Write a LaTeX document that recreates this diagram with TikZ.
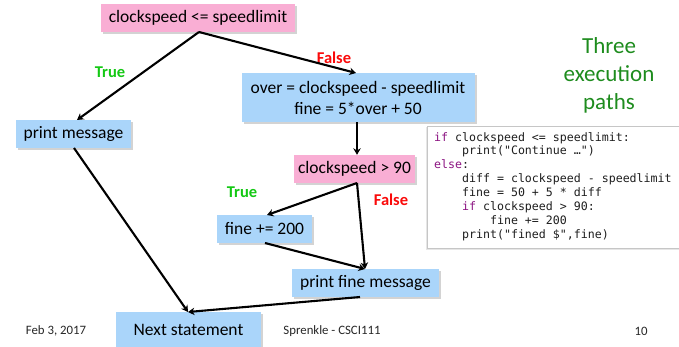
\documentclass[tikz,border=0pt]{standalone}
\usepackage{fontspec}
\setmainfont{Carlito}
\newfontfamily\codefont{DejaVu Sans Mono}
\usetikzlibrary{arrows.meta,shadows}
\definecolor{pinkbox}{RGB}{249,174,212}
\definecolor{bluebox}{RGB}{170,213,250}
\definecolor{truegreen}{RGB}{20,200,20}
\definecolor{falsered}{RGB}{250,10,10}
\definecolor{pathgreen}{RGB}{30,140,30}
\definecolor{kw}{RGB}{140,20,130}
\definecolor{codetext}{RGB}{30,30,30}
\begin{document}
\begin{tikzpicture}[x=1pt,y=-1pt,
  boxbase/.style={inner sep=0pt, align=center, font=\fontsize{17.5}{21}\selectfont,
    drop shadow={shadow xshift=2pt,shadow yshift=-2pt,opacity=0.35,fill=gray}},
  decision/.style={boxbase, fill=pinkbox},
  process/.style={boxbase, fill=bluebox},
  truelbl/.style={font=\bfseries\fontsize{16.5}{18}\selectfont, text=truegreen},
  falselbl/.style={font=\bfseries\fontsize{16.5}{18}\selectfont, text=falsered},
  footer/.style={font=\fontsize{12.8}{14}\selectfont, text=black!85},
  flow/.style={line width=2.1pt, -{Stealth[length=6.5pt,width=7.5pt]}}]
\useasboundingbox (0,0) rectangle (679,347);
% code box
\node[draw=gray!45, fill=white, line width=0.8pt, minimum width=260pt, minimum height=122pt,
  drop shadow={shadow xshift=-1.5pt,shadow yshift=-1.5pt,opacity=0.2,fill=gray}]
  (codebox) at (557,187) {};
\node[anchor=north west, inner sep=0pt, align=left, text=codetext,
  font=\codefont\fontsize{11.6}{13.9}\selectfont] (code) at (434,132)
  {\textcolor{kw}{if} clockspeed <= speedlimit:\\
   \ \ \ \ print("Continue …")\\
   \textcolor{kw}{else}:\\
   \ \ \ \ diff = clockspeed - speedlimit\\
   \ \ \ \ fine = 50 + 5 * diff\\
   \ \ \ \ \textcolor{kw}{if} clockspeed > 90:\\
   \ \ \ \ \ \ \ \ fine += 200\\
   \ \ \ \ print("fined \$",fine)};
% nodes
\node[decision, minimum width=194pt, minimum height=28pt] (d1) at (198,18) {clockspeed <= speedlimit};
\node[process, minimum width=233pt, minimum height=49pt] (over) at (358,97.5) {over = clockspeed - speedlimit\\fine = 5*over + 50};
\node[process, minimum width=115pt, minimum height=28pt] (pm) at (73.5,134) {print message};
\node[decision, minimum width=121pt, minimum height=28pt] (d2) at (354.5,169) {clockspeed > 90};
\node[process, minimum width=95pt, minimum height=28pt] (fine) at (264.5,229) {fine += 200};
\node[process, minimum width=147pt, minimum height=28pt] (pfm) at (365.5,283) {print fine message};
\node[process, minimum width=145pt, minimum height=40pt, anchor=north] (next) at (188.5,312) {};
\node[font=\fontsize{17.5}{21}\selectfont, inner sep=0pt] (nexttxt) at (188.5,330) {Next statement};
% labels
\node[truelbl] (t1) at (110,72) {True};
\node[falselbl] (f1) at (334,58) {False};
\node[truelbl] (t2) at (242,192) {True};
\node[falselbl] (f2) at (391,200) {False};
\node[align=center, text=pathgreen, font=\fontsize{23}{28}\selectfont] (paths) at (609,75) {Three\\execution\\paths};
% footer
\node[footer] (date) at (56,331) {Feb 3, 2017};
\node[footer] (author) at (332,331) {Sprenkle - CSCI111};
\node[footer] (page) at (641,331) {10};
% connectors
\coordinate (d1s) at (199,32);
\coordinate (d2s) at (357,183);
\coordinate (nextin) at (188,312);
\draw[flow] (d1s) -- (77,120);
\draw[flow] (d1s) -- (356,73);
\draw[flow] (over.south -| 357,0) -- (d2.north -| 357,0);
\draw[flow] (d2s) -- (267,215);
\draw[flow] (d2s) -- (365,269);
\draw[flow] (265,243) -- (365,269);
\draw[flow] (74,148) -- (nextin);
\draw[flow] (360,297) -- (nextin);
\end{tikzpicture}
\end{document}
